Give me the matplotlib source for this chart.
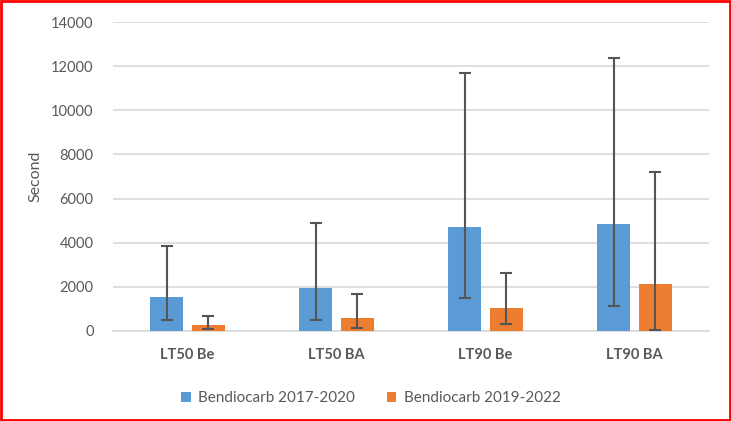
import numpy as np
import matplotlib
matplotlib.use("Agg")
import matplotlib.pyplot as plt
from matplotlib.patches import Rectangle

# Values
categories = ["LT50 Be", "LT50 BA", "LT90 Be", "LT90 BA"]
series_names = ["Bendiocarb 2017-2020", "Bendiocarb 2019-2022"]

vals_a = [1540, 1930, 4730, 4850]
low_a = [500, 480, 1480, 1150]
high_a = [3850, 4890, 11690, 12370]

vals_b = [270, 590, 1060, 2145]
low_b = [90, 135, 320, 30]
high_b = [690, 1660, 2610, 7220]

BLUE = "#5B9BD5"
ORANGE = "#ED7D31"
TEXT = "#595959"

plt.rcParams["font.family"] = ["Lato", "DejaVu Sans"]

fig = plt.figure(figsize=(7.31, 4.21), dpi=100)
ax = fig.add_axes([0.1546, 0.2138, 0.8154, 0.7339])

x = np.arange(len(categories))
w = 0.22
off = 0.14

err_a = [np.array(vals_a) - np.array(low_a), np.array(high_a) - np.array(vals_a)]
err_b = [np.array(vals_b) - np.array(low_b), np.array(high_b) - np.array(vals_b)]

err_kw = dict(ecolor="#555555", elinewidth=1.5, capsize=4, capthick=1.5)
ax.bar(x - off, vals_a, w, color=BLUE, label=series_names[0], yerr=err_a,
       error_kw=err_kw, zorder=3)
ax.bar(x + off, vals_b, w, color=ORANGE, label=series_names[1], yerr=err_b,
       error_kw=err_kw, zorder=3)

ax.set_xlim(-0.5, len(categories) - 0.5)
ax.set_ylim(0, 14000)
ax.set_yticks(range(0, 14001, 2000))
ax.yaxis.grid(True, color="#D9D9D9", linewidth=1.2, zorder=0)
ax.set_axisbelow(True)
for s in ["top", "right", "left"]:
    ax.spines[s].set_visible(False)
ax.spines["bottom"].set_color("#D9D9D9")
ax.spines["bottom"].set_linewidth(1.2)
ax.tick_params(axis="both", length=0, colors=TEXT, labelsize=10.5)
ax.tick_params(axis="y", pad=14)
ax.tick_params(axis="x", pad=12)
ax.set_xticks(x)
ax.set_xticklabels(categories, fontweight="bold")
ax.set_ylabel("Second", color=TEXT, fontsize=11.5, labelpad=6)

ax.legend(loc="upper center", bbox_to_anchor=(0.433, -0.15), ncol=2, frameon=False,
          fontsize=11, labelcolor=TEXT, handlelength=0.6, handleheight=0.6,
          columnspacing=2.1, handletextpad=0.5)

fig.patches.append(Rectangle((0.002, 0.003), 0.996, 0.994, transform=fig.transFigure,
                             fill=False, edgecolor="red", linewidth=2))

fig.savefig("out.png", dpi=100)
